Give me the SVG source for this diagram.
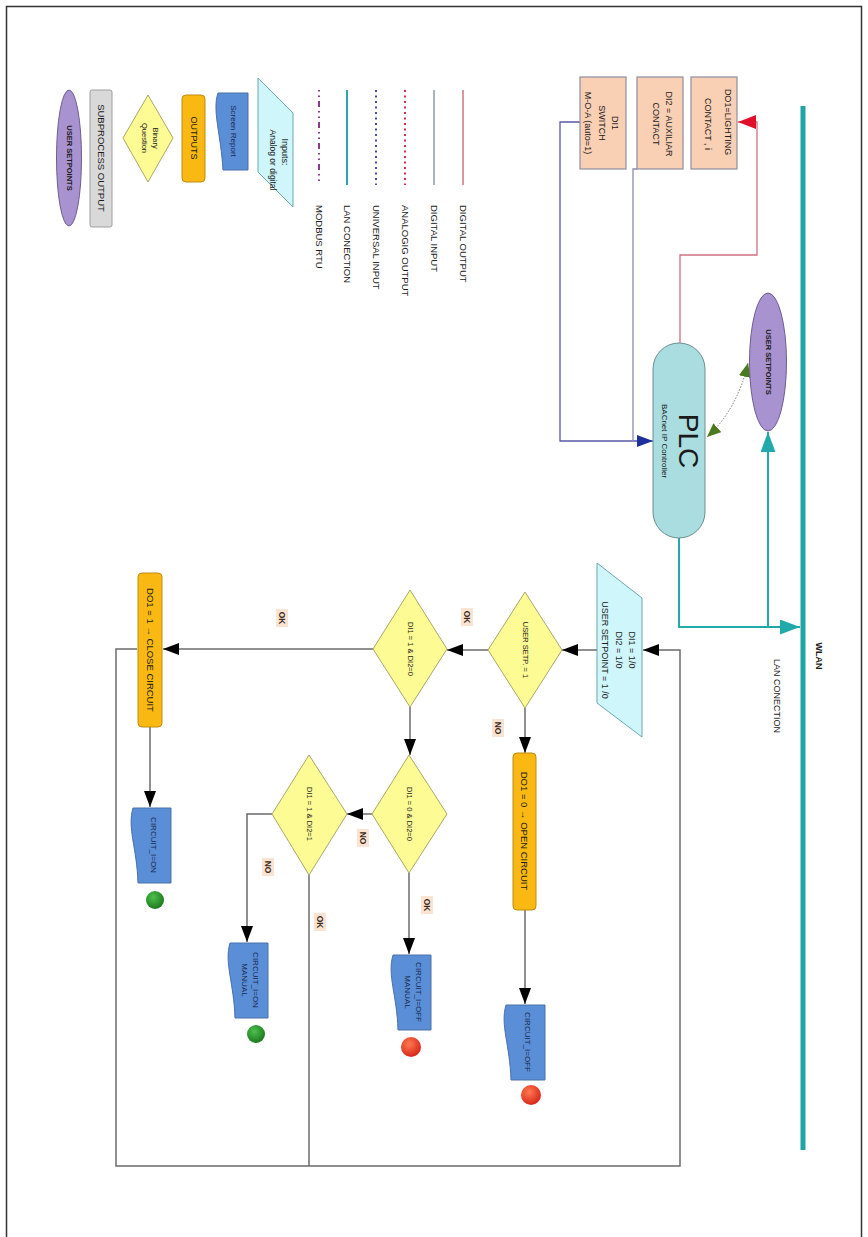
<svg xmlns="http://www.w3.org/2000/svg" width="868" height="1237" viewBox="0 0 868 1237">
<defs>
<style>
.t{font-family:"Liberation Sans",Arial,sans-serif;fill:#1a1a1a;text-anchor:middle;dominant-baseline:central}
.ts{font-family:"Liberation Sans",Arial,sans-serif;fill:#1a1a1a;text-anchor:start;dominant-baseline:central;font-size:9.5px}
.peach{fill:#FAD0B5;stroke:#8E8E9E;stroke-width:1.2}
.dia{fill:#FDFB94;stroke:#A9A86A;stroke-width:1}
.org{fill:#F9B912;stroke:#C08B10;stroke-width:1}
.doc{fill:#5A8ED6;stroke:#4A70A8;stroke-width:1}
.inp{fill:#CFF7FB;stroke:#6FA7AF;stroke-width:1}
.purp{fill:#A892CF;stroke:#6E5E8E;stroke-width:1}
.conn{fill:none;stroke:#6b6b6b;stroke-width:1.5}
.lbl{fill:#FBE3D2}
.lt{font-family:"Liberation Sans",Arial,sans-serif;font-size:8.5px;font-weight:bold;fill:#3a2a1a;text-anchor:middle;dominant-baseline:central}
.dt{font-family:"Liberation Sans",Arial,sans-serif;font-size:8px;fill:#1a2a50;text-anchor:middle;dominant-baseline:central}
</style>
<marker id="ab" viewBox="0 0 16 12" refX="16" refY="6" markerWidth="16" markerHeight="12" markerUnits="userSpaceOnUse" orient="auto"><path d="M0,0 L16,6 L0,12 z" fill="#000"/></marker>
<marker id="at" viewBox="0 0 20 15" refX="20" refY="7.5" markerWidth="20" markerHeight="15" markerUnits="userSpaceOnUse" orient="auto"><path d="M0,0 L20,7.5 L0,15 z" fill="#22AAAA"/></marker>
<marker id="an" viewBox="0 0 16 12" refX="16" refY="6" markerWidth="16" markerHeight="12" markerUnits="userSpaceOnUse" orient="auto"><path d="M0,0 L16,6 L0,12 z" fill="#1F2F9F"/></marker>
<marker id="ar" viewBox="0 0 18 14" refX="18" refY="7" markerWidth="18" markerHeight="14" markerUnits="userSpaceOnUse" orient="auto"><path d="M0,0 L18,7 L0,14 z" fill="#E0102A"/></marker>
<marker id="ag" viewBox="0 0 14 12" refX="14" refY="6" markerWidth="14" markerHeight="12" markerUnits="userSpaceOnUse" orient="auto-start-reverse"><path d="M0,0 L14,6 L0,12 z" fill="#4B7A1E"/></marker>
<radialGradient id="gr" cx="40%" cy="35%" r="65%"><stop offset="0" stop-color="#FF7A50"/><stop offset="1" stop-color="#D8281A"/></radialGradient>
<radialGradient id="gg" cx="40%" cy="35%" r="65%"><stop offset="0" stop-color="#4CC04C"/><stop offset="1" stop-color="#1E7A1E"/></radialGradient>
</defs>
<rect x="6.5" y="6.5" width="855" height="1250" fill="#fff" stroke="#333" stroke-width="1.5"/>

<g id="legend">
<g id="leg-user-setpoints"><ellipse cx="69" cy="158" rx="12.5" ry="68" class="purp"/><text class="t" transform="translate(69,158) rotate(90)" font-size="7.5" font-weight="bold">USER SETPOINTS</text></g>
<g id="leg-subprocess"><rect x="90" y="90" width="22" height="137" rx="2" fill="#D9D9D9" stroke="#A0A0A0"/><text class="t" transform="translate(101,158) rotate(90)" font-size="9.5">SUBPROCESS OUTPUT</text></g>
<g id="leg-binary"><polygon points="148,95 173,138 148,182 123,138" class="dia"/><text class="t" transform="translate(155,138) rotate(90)" font-size="7.5">Binary</text><text class="t" transform="translate(144,138) rotate(90)" font-size="7.5">Question</text></g>
<g id="leg-outputs"><rect x="182" y="95" width="23" height="87" rx="4" class="org"/><text class="t" transform="translate(193.5,138) rotate(90)" font-size="9">OUTPUTS</text></g>
<g id="leg-screen"><path d="M218,93 L248,93 L248,170 L223,170 C221,135 212,110 218,93 Z" class="doc"/><text class="dt" transform="translate(233,131) rotate(90)" font-size="7">Screen Report</text></g>
<g id="leg-inputs"><polygon points="258,78 293,113 293,207 258,172" class="inp"/><text class="t" transform="translate(285,152) rotate(90)" font-size="9">Inputs:</text><text class="t" transform="translate(273,160) rotate(90)" font-size="8.5">Analog or digital</text></g>
<g id="leg-lines">
<line x1="319" y1="90" x2="319" y2="185" stroke="#8A3A8A" stroke-width="2" stroke-dasharray="1.5,4,1.5,4,6,4"/>
<line x1="347" y1="90" x2="347" y2="185" stroke="#2AA7AA" stroke-width="2"/>
<line x1="376" y1="90" x2="376" y2="185" stroke="#4A4A9A" stroke-width="2" stroke-dasharray="2,3.5"/>
<line x1="405" y1="90" x2="405" y2="185" stroke="#D03040" stroke-width="2" stroke-dasharray="2,3.5"/>
<line x1="434" y1="90" x2="434" y2="185" stroke="#A7B3C0" stroke-width="2"/>
<line x1="463" y1="90" x2="463" y2="185" stroke="#C0505A" stroke-width="1.2"/>
<text class="ts" transform="translate(319,205) rotate(90)">MODBUS RTU</text>
<text class="ts" transform="translate(347,205) rotate(90)">LAN CONECTION</text>
<text class="ts" transform="translate(376,205) rotate(90)">UNIVERSAL INPUT</text>
<text class="ts" transform="translate(405,205) rotate(90)">ANALOGIG OUTPUT</text>
<text class="ts" transform="translate(434,205) rotate(90)">DIGITAL INPUT</text>
<text class="ts" transform="translate(463,205) rotate(90)">DIGITAL OUTPUT</text>
</g>
</g>

<g id="connectors">
<path d="M680,343 V255 H757 V122 H738" fill="none" stroke="#D07080" stroke-width="1.3" marker-end="url(#ar)"/>
<path d="M580,122 H560 V441 H653" fill="none" stroke="#5858A8" stroke-width="1.3" marker-end="url(#an)"/>
<path d="M637,169 H633 V441" fill="none" stroke="#8888B8" stroke-width="1.3"/>
<path d="M679,538 V627 H800" fill="none" stroke="#22AAAA" stroke-width="2" marker-end="url(#at)"/>
<path d="M768,627 V432" fill="none" stroke="#22AAAA" stroke-width="2" marker-end="url(#at)"/>
<path d="M707,437 Q737,410 748,363" fill="none" stroke="#777" stroke-width="1" stroke-dasharray="1.5,1.5" marker-start="url(#ag)" marker-end="url(#ag)"/>
<line x1="803" y1="106" x2="803" y2="1150" stroke="#20A5A5" stroke-width="5"/>
<path d="M137,649 H116 V1166 H680 V650 H643" class="conn" marker-end="url(#ab)"/>
<path d="M309,875 V1166" class="conn"/>
<path d="M597,650 H562" class="conn" marker-end="url(#ab)"/>
<path d="M488,650 H447" class="conn" marker-end="url(#ab)"/>
<path d="M373,649 H163" class="conn" marker-end="url(#ab)"/>
<path d="M525,708 V753" class="conn" marker-end="url(#ab)"/>
<path d="M525,910 V1004" class="conn" marker-end="url(#ab)"/>
<path d="M410,707 V755" class="conn" marker-end="url(#ab)"/>
<path d="M409,873 V954" class="conn" marker-end="url(#ab)"/>
<path d="M372,814 H347" class="conn" marker-end="url(#ab)"/>
<path d="M272,814 H247 V942" class="conn" marker-end="url(#ab)"/>
<path d="M150,727 V807" class="conn" marker-end="url(#ab)"/>
</g>

<g id="labels">
<text class="t" transform="translate(819,656) rotate(90)" font-size="9" font-weight="bold">WLAN</text>
<text class="t" transform="translate(777,696) rotate(90)" font-size="9">LAN CONECTION</text>
<g><rect x="461" y="608" width="12" height="18" class="lbl"/><text class="lt" transform="translate(467,617) rotate(90)">OK</text></g>
<g><rect x="492" y="719" width="12" height="18" class="lbl"/><text class="lt" transform="translate(498,728) rotate(90)">NO</text></g>
<g><rect x="276" y="609" width="12" height="18" class="lbl"/><text class="lt" transform="translate(282,618) rotate(90)">OK</text></g>
<g><rect x="357" y="829" width="12" height="18" class="lbl"/><text class="lt" transform="translate(363,838) rotate(90)">NO</text></g>
<g><rect x="421" y="896" width="12" height="18" class="lbl"/><text class="lt" transform="translate(427,905) rotate(90)">OK</text></g>
<g><rect x="262" y="858" width="12" height="18" class="lbl"/><text class="lt" transform="translate(268,867) rotate(90)">NO</text></g>
<g><rect x="314" y="913" width="12" height="18" class="lbl"/><text class="lt" transform="translate(320,922) rotate(90)">OK</text></g>
</g>

<g id="do1-box"><rect x="691" y="77" width="46" height="92" class="peach"/><text class="t" transform="translate(728,122) rotate(90)" font-size="9">DO1=LIGHTING</text><text class="t" transform="translate(708,124) rotate(90)" font-size="9">CONTACT , i</text></g>
<g id="di2-box"><rect x="637" y="77" width="46" height="92" class="peach"/><text class="t" transform="translate(669,124) rotate(90)" font-size="9">DI2 = AUXILIAR</text><text class="t" transform="translate(656,124) rotate(90)" font-size="9">CONTACT</text></g>
<g id="di1-box"><rect x="580" y="77" width="46" height="92" class="peach"/><text class="t" transform="translate(615,123) rotate(90)" font-size="9">DI1</text><text class="t" transform="translate(602,123) rotate(90)" font-size="9">SWITCH</text><text class="t" transform="translate(588,123) rotate(90)" font-size="9">M-O-A (auto=1)</text></g>

<g id="plc"><rect x="653" y="343" width="52" height="195" rx="26" fill="#A9DDE0" stroke="#6E8E90" stroke-width="1"/><text class="t" transform="translate(688,441) rotate(90)" font-size="28">PLC</text><text class="t" transform="translate(664,441) rotate(90)" font-size="8">BACnet IP Controller</text></g>
<g id="user-setpoints"><ellipse cx="768" cy="362" rx="18.5" ry="69" class="purp"/><text class="t" transform="translate(768,362) rotate(90)" font-size="7.5" font-weight="bold">USER SETPOINTS</text></g>

<g id="input"><polygon points="597,563 642,598 642,737 597,703" class="inp"/><text class="t" transform="translate(632,650) rotate(90)" font-size="9">DI1 = 1/0</text><text class="t" transform="translate(619,650) rotate(90)" font-size="9">DI2 = 1/0</text><text class="t" transform="translate(605,650) rotate(90)" font-size="9">USER SETPOINT = 1 /0</text></g>
<g id="d1"><polygon points="525,592 562,650 525,708 488,650" class="dia"/><text class="t" transform="translate(525,650) rotate(90)" font-size="7.5">USER SETP. = 1</text></g>
<g id="d2"><polygon points="410,590 447,649 410,707 373,649" class="dia"/><text class="t" transform="translate(410,649) rotate(90)" font-size="7.5">DI1 = 1 &amp; DI2=0</text></g>
<g id="d3"><polygon points="409,755 447,814 409,873 372,814" class="dia"/><text class="t" transform="translate(409,814) rotate(90)" font-size="7.5">DI1 = 0 &amp; DI2=0</text></g>
<g id="d4"><polygon points="309,755 347,814 309,875 272,814" class="dia"/><text class="t" transform="translate(309,814) rotate(90)" font-size="7.5">DI1 = 1 &amp; DI2=1</text></g>
<g id="open-circuit"><rect x="513" y="753" width="23" height="157" rx="4" class="org"/><text class="t" transform="translate(524.5,831) rotate(90)" font-size="9.5">DO1 = 0 → OPEN CIRCUIT</text></g>
<g id="close-circuit"><rect x="138" y="573" width="24" height="154" rx="4" class="org"/><text class="t" transform="translate(150,650) rotate(90)" font-size="9.5">DO1 = 1 → CLOSE CIRCUIT</text></g>
<g id="circuit-off"><path d="M506,1005 L545,1005 L545,1080 L511,1080 C510,1045 500,1025 506,1005 Z" class="doc"/><text class="dt" transform="translate(527,1042) rotate(90)">CIRCUIT_I=OFF</text><circle cx="531" cy="1095" r="10" fill="url(#gr)"/></g>
<g id="circuit-off-manual"><path d="M393,955 L431,955 L431,1030 L398,1030 C397,995 387,975 393,955 Z" class="doc"/><text class="dt" transform="translate(418,992) rotate(90)">CIRCUIT_I=OFF</text><text class="dt" transform="translate(407,992) rotate(90)">MANUAL</text><circle cx="411" cy="1047" r="10" fill="url(#gr)"/></g>
<g id="circuit-on-manual"><path d="M230,943 L268,943 L268,1018 L235,1018 C234,983 224,963 230,943 Z" class="doc"/><text class="dt" transform="translate(255,980) rotate(90)">CIRCUIT_I=ON</text><text class="dt" transform="translate(244,980) rotate(90)">MANUAL</text><circle cx="256" cy="1034" r="9" fill="url(#gg)"/></g>
<g id="circuit-on"><path d="M133,808 L171,808 L171,883 L138,883 C137,848 127,828 133,808 Z" class="doc"/><text class="dt" transform="translate(153,845) rotate(90)">CIRCUIT_I=ON</text><circle cx="155" cy="900" r="9" fill="url(#gg)"/></g>
</svg>
